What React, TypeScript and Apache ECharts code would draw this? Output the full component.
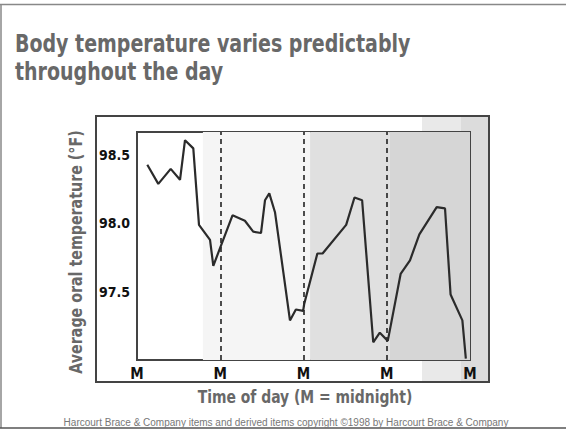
import React, { useEffect, useRef } from "react";
import * as echarts from "echarts";

// Hours since the first midnight (0..96) and oral temperature (°F)
const hours = [
  2.97, 6.14, 9.72, 12.4, 13.84, 16.23, 17.87, 21.05, 22.0, 27.53, 31.1, 33.5, 35.75,
  36.9, 38.14, 39.8, 42.2, 44.1, 45.8, 47.9, 48.2, 52.0, 53.5, 60.3, 62.7, 64.9,
  68.1, 70.0, 72.3, 76.0, 78.7, 81.4, 86.4, 88.8, 90.4, 93.8, 94.8,
];
const temps = [
  98.43, 98.29, 98.4, 98.32, 98.61, 98.55, 97.99, 97.88, 97.69, 98.06, 98.02, 97.94, 97.93,
  98.17, 98.22, 98.08, 97.64, 97.29, 97.37, 97.36, 97.41, 97.78, 97.78, 97.99, 98.19, 98.17,
  97.13, 97.2, 97.14, 97.63, 97.73, 97.92, 98.12, 98.11, 97.48, 97.29, 97.01,
];
const midnights = [24, 48, 72];
const shadeBands = [
  { from: 19.0, to: 49.9, color: "#f5f5f5" },
  { from: 49.9, to: 72.9, color: "#e0e0e0" },
  { from: 72.9, to: 96, color: "#d6d6d6" },
];
const yTickLabels = [97.5, 98.0, 98.5];

const titleText = "Body temperature varies predictably\nthroughout the day";
const yName = "Average oral temperature (°F)";
const xName = "Time of day (M = midnight)";
const footer =
  "Harcourt Brace & Company items and derived items copyright ©1998 by Harcourt Brace & Company";

const COND = "'DejaVu Sans Condensed', 'DejaVu Sans', sans-serif";
const GRAY = "#686868";

export default function App() {
  const ref = useRef<HTMLDivElement>(null);
  useEffect(() => {
    if (!ref.current) return;
    const chart = echarts.init(ref.current, undefined, { renderer: "svg" });
    const option = {
      animation: false,
      graphic: [
        { type: "line", z: -20, shape: { x1: 0, y1: 4.5, x2: 566, y2: 4.5 }, style: { stroke: "#888", lineWidth: 1.5 } },
        { type: "line", z: -20, shape: { x1: 1, y1: 4, x2: 1, y2: 428 }, style: { stroke: "#888", lineWidth: 1.5 } },
        { type: "line", z: -20, shape: { x1: 0, y1: 428, x2: 566, y2: 428 }, style: { stroke: "#555", lineWidth: 1.5 } },
        { type: "rect", z: -10, shape: { x: 96, y: 116, width: 393, height: 266 }, style: { fill: "#fff", stroke: "#444", lineWidth: 2 } },
        { type: "rect", z: -9, shape: { x: 422, y: 117, width: 39, height: 264 }, style: { fill: "#e9e9e9" } },
        { type: "rect", z: -9, shape: { x: 461, y: 117, width: 27, height: 264 }, style: { fill: "#dcdcdc" } },
        {
          type: "text",
          x: 15,
          y: 29,
          scaleX: 0.845,
          style: {
            text: titleText,
            fontFamily: COND,
            fontSize: 25,
            fontWeight: "bold",
            fill: GRAY,
            lineHeight: 28,
            align: "left",
            verticalAlign: "top",
          },
        },
        {
          type: "text",
          x: 305,
          y: 397,
          scaleX: 0.86,
          style: {
            text: xName,
            fontFamily: COND,
            fontSize: 18,
            fontWeight: "bold",
            fill: GRAY,
            align: "center",
            verticalAlign: "middle",
          },
        },
        {
          type: "text",
          x: 76,
          y: 252,
          rotation: Math.PI / 2,
          scaleX: 0.88,
          style: {
            text: yName,
            fontFamily: COND,
            fontSize: 18,
            fontWeight: "bold",
            fill: GRAY,
            align: "center",
            verticalAlign: "middle",
          },
        },
        {
          type: "text",
          x: 286,
          y: 422,
          style: {
            text: footer,
            fontSize: 10,
            fill: "#777",
            fontFamily: "'Liberation Sans', Arial, sans-serif",
            align: "center",
            verticalAlign: "middle",
          },
        },
      ],
      grid: {
        left: 137,
        top: 132,
        width: 333,
        height: 228,
        show: true,
        backgroundColor: "#fff",
        borderColor: "#444",
        borderWidth: 2,
      },
      xAxis: {
        type: "value",
        min: 0,
        max: 96,
        interval: 24,
        axisLine: { show: false },
        axisTick: { show: false },
        splitLine: { show: false },
        axisLabel: {
          formatter: () => "M",
          fontFamily: COND,
          fontSize: 15,
          fontWeight: "bold",
          color: "#111",
          margin: 6,
        },
      },
      yAxis: {
        type: "value",
        min: 97,
        max: 98.67,
        interval: 0.5,
        axisLine: { show: false },
        axisTick: { show: false },
        splitLine: { show: false },
        axisLabel: {
          formatter: (v: number) =>
            yTickLabels.some((t) => Math.abs(t - v) < 1e-6) ? v.toFixed(1) : "",
          fontFamily: COND,
          fontSize: 14,
          fontWeight: "bold",
          color: "#111",
          margin: 7,
        },
      },
      series: [
        {
          type: "line",
          data: hours.map((h, i) => [h, temps[i]]),
          showSymbol: false,
          symbol: "none",
          lineStyle: { color: "#2b2b2b", width: 2.2 },
          z: 5,
          markArea: {
            silent: true,
            data: shadeBands.map((b) => [
              { xAxis: b.from, itemStyle: { color: b.color } },
              { xAxis: b.to },
            ]),
          },
          markLine: {
            silent: true,
            symbol: "none",
            label: { show: false },
            lineStyle: { color: "#222", type: [5, 4], width: 1.6 },
            data: midnights.map((m) => ({ xAxis: m })),
          },
        },
      ],
    };
    chart.setOption(option as any);
    return () => chart.dispose();
  }, []);
  return (
    <div
      ref={ref}
      style={{ position: "fixed", left: 0, top: 0, width: 566, height: 429, background: "#fff" }}
    />
  );
}
